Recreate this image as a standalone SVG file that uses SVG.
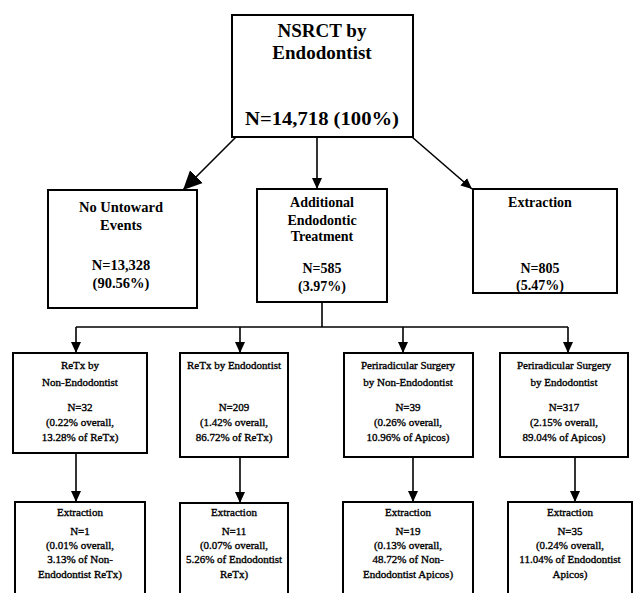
<svg xmlns="http://www.w3.org/2000/svg" width="636" height="593" viewBox="0 0 636 593">
<style>
.box{fill:#fff;stroke:#000;stroke-width:2}
.big{font-family:'Liberation Serif','DejaVu Serif',serif;font-weight:bold;fill:#000;text-anchor:middle}
.sm{font-family:'Liberation Serif','DejaVu Serif',serif;font-size:11px;fill:#000;stroke:#000;stroke-width:0.35;text-anchor:middle}
.con{stroke:#000;stroke-width:1.6;fill:none}
</style>
<defs>
<marker id="ah" markerUnits="userSpaceOnUse" markerWidth="12" markerHeight="12" refX="11" refY="6" orient="auto">
<path d="M0,1 L11,6 L0,11 Z" fill="#000"/>
</marker>
<marker id="ahb" markerUnits="userSpaceOnUse" markerWidth="20" markerHeight="20" refX="19" refY="10" orient="auto">
<path d="M0,1 L19,10 L0,19 Z" fill="#000"/>
</marker>
</defs>
<rect width="636" height="593" fill="#fff"/>
<g id="connectors">
<line class="con" x1="236" y1="137" x2="183" y2="190" stroke-width="5" marker-end="url(#ahb)"/>
<line class="con" x1="317" y1="137" x2="317" y2="189" marker-end="url(#ah)"/>
<line class="con" x1="412" y1="137" x2="472" y2="189" marker-end="url(#ah)"/>
<polyline class="con" points="322,302 322,327"/>
<polyline class="con" points="76,327 568,327"/>
<line class="con" x1="76" y1="327" x2="76" y2="353" marker-end="url(#ah)"/>
<line class="con" x1="240" y1="327" x2="240" y2="353" marker-end="url(#ah)"/>
<line class="con" x1="403" y1="327" x2="403" y2="353" marker-end="url(#ah)"/>
<line class="con" x1="568" y1="327" x2="568" y2="353" marker-end="url(#ah)"/>
<line class="con" x1="76" y1="453" x2="76" y2="502" marker-end="url(#ah)"/>
<line class="con" x1="240" y1="457" x2="240" y2="503" marker-end="url(#ah)"/>
<line class="con" x1="413" y1="457" x2="413" y2="502" marker-end="url(#ah)"/>
<line class="con" x1="575" y1="457" x2="575" y2="502" marker-end="url(#ah)"/>
</g>
<g id="root">
<rect class="box" x="232" y="15" width="181" height="122"/>
<text class="big" x="322" y="37" font-size="19">NSRCT by</text>
<text class="big" x="322" y="59" font-size="19">Endodontist</text>
<text class="big" x="322" y="125" font-size="19" textLength="154" lengthAdjust="spacingAndGlyphs">N=14,718 (100%)</text>
</g>
<g id="no-untoward">
<rect class="box" x="48" y="190" width="149" height="118"/>
<text class="big" x="121" y="212" font-size="14.5">No Untoward</text>
<text class="big" x="121" y="230" font-size="14.5">Events</text>
<text class="big" x="121" y="270" font-size="14.5">N=13,328</text>
<text class="big" x="121" y="288" font-size="14.5">(90.56%)</text>
</g>
<g id="additional">
<rect class="box" x="257" y="189" width="130" height="113"/>
<text class="big" x="322" y="207" font-size="14">Additional</text>
<text class="big" x="322" y="225" font-size="14">Endodontic</text>
<text class="big" x="322" y="241" font-size="14">Treatment</text>
<text class="big" x="322" y="273" font-size="14">N=585</text>
<text class="big" x="322" y="291" font-size="14">(3.97%)</text>
</g>
<g id="extraction">
<rect class="box" x="473" y="189" width="144" height="104"/>
<text class="big" x="540" y="207" font-size="14">Extraction</text>
<text class="big" x="540" y="273" font-size="14">N=805</text>
<text class="big" x="540" y="290" font-size="14">(5.47%)</text>
</g>
<g id="retx-non">
<rect class="box" x="13" y="353" width="134" height="100"/>
<text class="sm" x="80" y="369">ReTx by</text>
<text class="sm" x="80" y="386">Non-Endodontist</text>
<text class="sm" x="80" y="411">N=32</text>
<text class="sm" x="80" y="426">(0.22% overall,</text>
<text class="sm" x="80" y="441">13.28% of ReTx)</text>
</g>
<g id="retx-endo">
<rect class="box" x="180" y="353" width="108" height="104"/>
<text class="sm" x="234" y="369">ReTx by Endodontist</text>
<text class="sm" x="234" y="411">N=209</text>
<text class="sm" x="234" y="426">(1.42% overall,</text>
<text class="sm" x="234" y="441">86.72% of ReTx)</text>
</g>
<g id="perirad-non">
<rect class="box" x="344" y="353" width="129" height="104"/>
<text class="sm" x="408" y="369">Periradicular Surgery</text>
<text class="sm" x="408" y="386">by Non-Endodontist</text>
<text class="sm" x="408" y="411">N=39</text>
<text class="sm" x="408" y="426">(0.26% overall,</text>
<text class="sm" x="408" y="441">10.96% of Apicos)</text>
</g>
<g id="perirad-endo">
<rect class="box" x="500" y="353" width="128" height="104"/>
<text class="sm" x="564" y="369">Periradicular Surgery</text>
<text class="sm" x="564" y="386">by Endodontist</text>
<text class="sm" x="564" y="411">N=317</text>
<text class="sm" x="564" y="426">(2.15% overall,</text>
<text class="sm" x="564" y="441">89.04% of Apicos)</text>
</g>
<g id="ext-retx-non">
<rect class="box" x="15" y="502" width="130" height="100"/>
<text class="sm" x="80" y="516">Extraction</text>
<text class="sm" x="80" y="535">N=1</text>
<text class="sm" x="80" y="549">(0.01% overall,</text>
<text class="sm" x="80" y="563">3.13% of Non-</text>
<text class="sm" x="80" y="578">Endodontist ReTx)</text>
</g>
<g id="ext-retx-endo">
<rect class="box" x="180" y="503" width="108" height="100"/>
<text class="sm" x="234" y="516">Extraction</text>
<text class="sm" x="234" y="535">N=11</text>
<text class="sm" x="234" y="549">(0.07% overall,</text>
<text class="sm" x="234" y="563">5.26% of Endodontist</text>
<text class="sm" x="234" y="578">ReTx)</text>
</g>
<g id="ext-perirad-non">
<rect class="box" x="343" y="502" width="130" height="100"/>
<text class="sm" x="408" y="516">Extraction</text>
<text class="sm" x="408" y="535">N=19</text>
<text class="sm" x="408" y="549">(0.13% overall,</text>
<text class="sm" x="408" y="563">48.72% of Non-</text>
<text class="sm" x="408" y="578">Endodontist Apicos)</text>
</g>
<g id="ext-perirad-endo">
<rect class="box" x="508" y="502" width="124" height="100"/>
<text class="sm" x="570" y="516">Extraction</text>
<text class="sm" x="570" y="535">N=35</text>
<text class="sm" x="570" y="549">(0.24% overall,</text>
<text class="sm" x="570" y="563">11.04% of Endodontist</text>
<text class="sm" x="570" y="578">Apicos)</text>
</g>
</svg>
